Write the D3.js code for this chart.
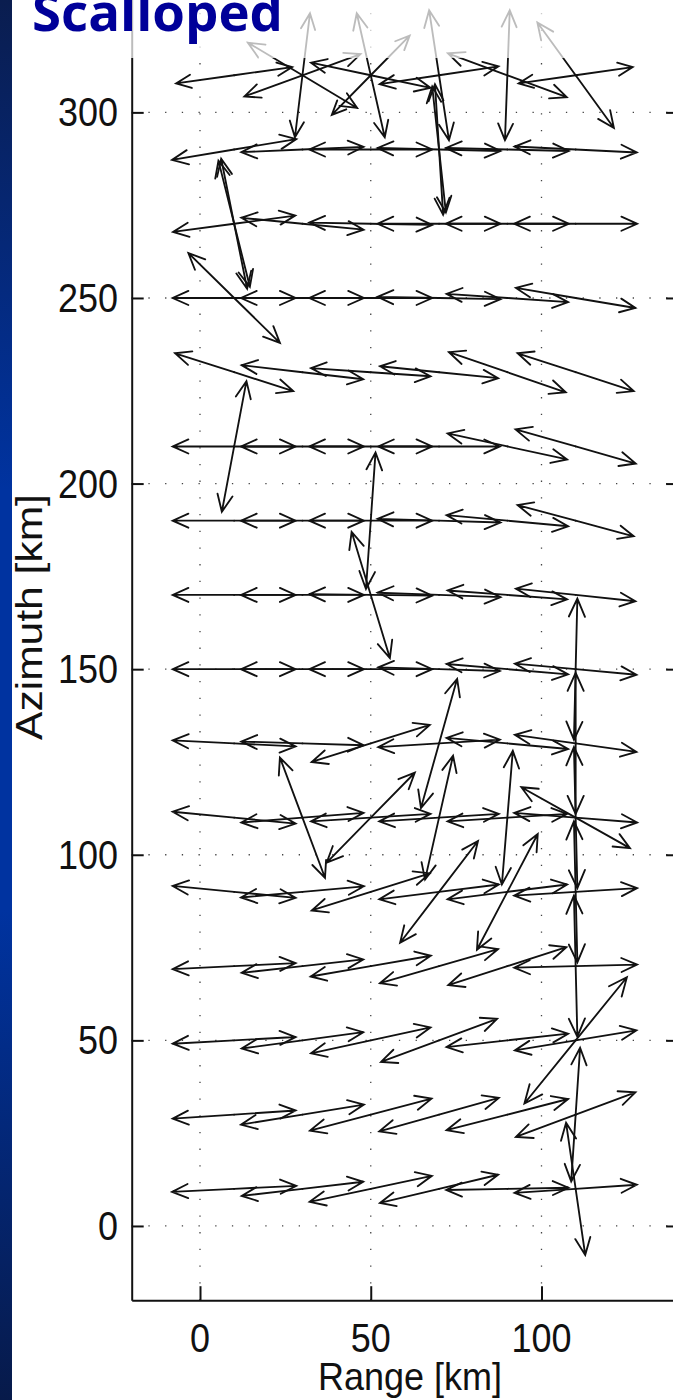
<!DOCTYPE html>
<html><head><meta charset="utf-8">
<script src="https://cdn.jsdelivr.net/npm/d3@7"></script>
<style>body{margin:0;background:#fff}svg{display:block}</style>
</head><body>
<svg id="chart" width="673" height="1400"></svg>
<script>
// grid of vector origins (km)
const colX = [10, 30, 50, 70, 90, 110];
const rowY = [10, 30, 50, 70, 90, 110, 130, 150, 170, 190, 210, 230, 250, 270, 290, 310];
// primary offset vectors (km), drawn in both directions (+/-), one row per rowY
const U = [
  [18.2, 17.8, 17.9, 17.3, 17.9, 17.9],
  [18.0, 18.0, 17.8, 17.5, 17.8, 17.5],
  [18.0, 17.8, 17.5, 17.0, 17.8, 17.8],
  [18.0, 17.8, 17.6, 17.3, 17.3, 18.0],
  [18.0, 18.0, 17.3, 17.5, 17.5, 18.0],
  [18.0, 17.9, 17.5, 17.5, 17.5, 18.0],
  [18.0, 17.9, 17.3, 17.8, 17.8, 17.8],
  [18.0, 18.0, 18.0, 17.8, 17.8, 17.8],
  [18.0, 18.0, 18.0, 18.0, 17.5, 17.5],
  [18.0, 18.0, 18.0, 18.0, 17.8, 17.0],
  [18.0, 18.0, 18.0, 17.8, 17.5, 17.6],
  [17.3, 17.8, 17.5, 17.3, 17.1, 17.0],
  [18.0, 18.0, 18.0, 18.0, 17.8, 17.5],
  [17.9, 17.9, 18.0, 18.0, 18.0, 18.0],
  [18.2, 17.9, 18.0, 18.0, 18.0, 17.9],
  [17.0, 17.0, 17.5, 17.4, 17.4, 16.7]
];
const V = [
  [0.8, 1.9, 3.5, 3.8, 0.3, 1.1],
  [1.1, 2.7, 4.3, 4.5, 4.2, 6.0],
  [0.9, 2.2, 3.5, 5.8, 1.8, 2.7],
  [0.8, 1.8, 2.8, 4.6, 5.1, 0.4],
  [-1.6, 1.5, 5.0, 2.0, 2.0, 1.0],
  [-1.6, 1.3, 1.0, 1.0, 1.0, -1.3],
  [-0.8, -0.5, 5.0, 1.0, -1.5, -2.3],
  [0.0, 0.0, 0.0, -0.5, -1.4, -1.5],
  [0.0, 0.0, -0.2, -0.6, -1.2, -1.7],
  [0.0, 0.0, 0.0, -0.5, -1.5, -4.2],
  [0.0, 0.0, 0.0, 0.0, -3.5, -4.6],
  [-5.1, -1.9, -1.1, -1.6, -5.4, -5.1],
  [0.0, 0.0, 0.0, -0.3, -1.1, -2.7],
  [2.2, -1.6, -0.3, 0.0, 0.0, 0.0],
  [2.8, 0.7, 0.0, -0.4, -0.4, -0.8],
  [2.2, 5.7, -3.4, 2.4, -5.9, 2.2]
];
// additional offset vectors (km) at given origins, also drawn +/-
const extraX = [10, 10, 10, 10, 30, 50, 50, 50, 70, 70, 70, 90, 90, 110, 110, 110, 110, 110, 110, 110, 110, 110, 30, 30, 50, 50, 70, 70, 70, 90, 110];
const extraY = [250, 270, 270, 210, 110, 110, 190, 170, 130, 110, 90, 110, 90, 150, 130, 110, 110, 90, 70, 50, 30, 10, 310, 310, 310, 310, 290, 290, 310, 310, 310];
const extraU = [13.4, 4.6, 3.8, -3.6, 6.6, 12.9, -1.4, 5.6, -5.3, -4.1, -11.4, -1.6, -8.9, -0.5, 0.0, 0.5, 15.9, 0.5, 0.5, 15.0, 1.3, 2.8, 16.0, -2.2, -11.4, 4.1, 1.2, 2.0, 2.9, -0.7, 11.2];
const extraV = [-12.1, -17.0, -17.5, -17.6, -16.2, 12.1, -18.4, -17.0, -17.4, -16.7, -13.7, -18.0, -15.6, -19.0, -19.0, -19.0, -8.2, -19.0, -19.0, 17.0, 18.0, -17.8, -8.8, -16.7, -10.7, -16.7, -17.6, -17.0, -17.5, -17.5, -14.2];

const xTicks = [0, 50, 100];
const yTicks = [0, 50, 100, 150, 200, 250, 300];
const xLabel = "Range [km]";
const yLabel = "Azimuth [km]";
const title = "Scalloped";

const svg = d3.select("#chart");
const W = 673, H = 1400;

// slide background band
const defs = svg.append("defs");
const grad = defs.append("linearGradient").attr("id", "band").attr("x1", 0).attr("y1", 0).attr("x2", 0).attr("y2", 1);
grad.append("stop").attr("offset", "0%").attr("stop-color", "#0a1d4f");
grad.append("stop").attr("offset", "35%").attr("stop-color", "#0033a0");
grad.append("stop").attr("offset", "65%").attr("stop-color", "#0033a0");
grad.append("stop").attr("offset", "100%").attr("stop-color", "#071a4a");
svg.append("rect").attr("x", 0).attr("y", 0).attr("width", 12).attr("height", H).attr("fill", "url(#band)");

const x = d3.scaleLinear().domain([-20, 140]).range([131.7, 678.1]);
const y = d3.scaleLinear().domain([-20, 340]).range([1300.2, -36.1]);

const plot = svg.append("g");
// grid
plot.append("g").selectAll("line").data(xTicks).join("line")
  .attr("x1", d => x(d)).attr("x2", d => x(d)).attr("y1", y(-20)).attr("y2", y(340))
  .attr("stroke", "#444").attr("stroke-width", 1.3).attr("stroke-dasharray", "1.3,15.4");
plot.append("g").selectAll("line").data(yTicks).join("line")
  .attr("y1", d => y(d)).attr("y2", d => y(d)).attr("x1", x(-20)).attr("x2", x(140))
  .attr("stroke", "#444").attr("stroke-width", 1.3).attr("stroke-dasharray", "1.3,15.4");

// axes box with inward ticks
const axL = d3.axisLeft(y).tickValues(yTicks).tickSizeInner(-12).tickSizeOuter(0).tickFormat("");
const axR = d3.axisRight(y).tickValues(yTicks).tickSizeInner(-12).tickSizeOuter(0).tickFormat("");
const axB = d3.axisBottom(x).tickValues(xTicks).tickSizeInner(-14).tickSizeOuter(0).tickFormat("");
const axT = d3.axisTop(x).tickValues(xTicks).tickSizeInner(-14).tickSizeOuter(0).tickFormat("");
[[axL, `translate(${x(-20)},0)`], [axR, `translate(${x(140)},0)`], [axB, `translate(0,${y(-20)})`], [axT, `translate(0,${y(340)})`]]
  .forEach(([a, t]) => {
    const g = plot.append("g").attr("transform", t).call(a);
    g.selectAll("path,line").attr("stroke", "#111").attr("stroke-width", 2);
  });

// arrows
const vecs = [];
rowY.forEach((ry, i) => colX.forEach((cx, j) => {
  vecs.push({ x0: cx, y0: ry, u: U[i][j], v: V[i][j] });
  vecs.push({ x0: cx, y0: ry, u: -U[i][j], v: -V[i][j] });
}));
extraX.forEach((cx, k) => {
  vecs.push({ x0: cx, y0: extraY[k], u: extraU[k], v: extraV[k] });
  vecs.push({ x0: cx, y0: extraY[k], u: -extraU[k], v: -extraV[k] });
});
function arrowPath(d) {
  const ox = x(d.x0), oy = y(d.y0), tx = x(d.x0 + d.u), ty = y(d.y0 + d.v);
  const ang = Math.atan2(ty - oy, tx - ox);
  const L = Math.hypot(tx - ox, ty - oy);
  const h = Math.min(20, 0.28 * L), a = 0.42;
  const b1x = tx - h * Math.cos(ang - a), b1y = ty - h * Math.sin(ang - a);
  const b2x = tx - h * Math.cos(ang + a), b2y = ty - h * Math.sin(ang + a);
  return `M${ox},${oy}L${tx},${ty}M${b1x},${b1y}L${tx},${ty}L${b2x},${b2y}`;
}
plot.append("g").selectAll("path").data(vecs).join("path")
  .attr("d", arrowPath).attr("fill", "none").attr("stroke", "#111")
  .attr("stroke-width", 1.85).attr("stroke-linejoin", "miter").attr("stroke-linecap", "round");

// tick labels
const font = "'Liberation Sans', Arial, Helvetica, sans-serif";
svg.append("g").selectAll("text").data(yTicks).join("text")
  .attr("transform", d => `translate(118,${y(d) + 14}) scale(1,1.15)`)
  .attr("text-anchor", "end").attr("font-family", font).attr("font-size", 36).attr("fill", "#111")
  .text(d => d);
svg.append("g").selectAll("text").data(xTicks).join("text")
  .attr("transform", d => `translate(${x(d)},1352) scale(1,1.12)`)
  .attr("text-anchor", "middle").attr("font-family", font).attr("font-size", 36).attr("fill", "#111")
  .text(d => d);
svg.append("text").attr("transform", "translate(410,1390) scale(1,1.1)")
  .attr("text-anchor", "middle").attr("font-family", font).attr("font-size", 36).attr("fill", "#111")
  .text(xLabel);
svg.append("text").attr("transform", "translate(42,617) rotate(-90) scale(1.15,1)")
  .attr("text-anchor", "middle").attr("font-family", font).attr("font-size", 37).attr("fill", "#111")
  .text(yLabel);

// faded title box at the top
svg.append("rect").attr("x", 12).attr("y", 0).attr("width", W - 12).attr("height", 58)
  .attr("fill", "#fff").attr("opacity", 0.72);
svg.append("text").attr("x", 32).attr("y", 31)
  .attr("font-family", "'Open Sans', 'Noto Sans', sans-serif").attr("font-weight", 700)
  .attr("font-size", 52).attr("fill", "#000099")
  .attr("textLength", 251).attr("lengthAdjust", "spacingAndGlyphs")
  .text(title);
</script>
</body></html>
